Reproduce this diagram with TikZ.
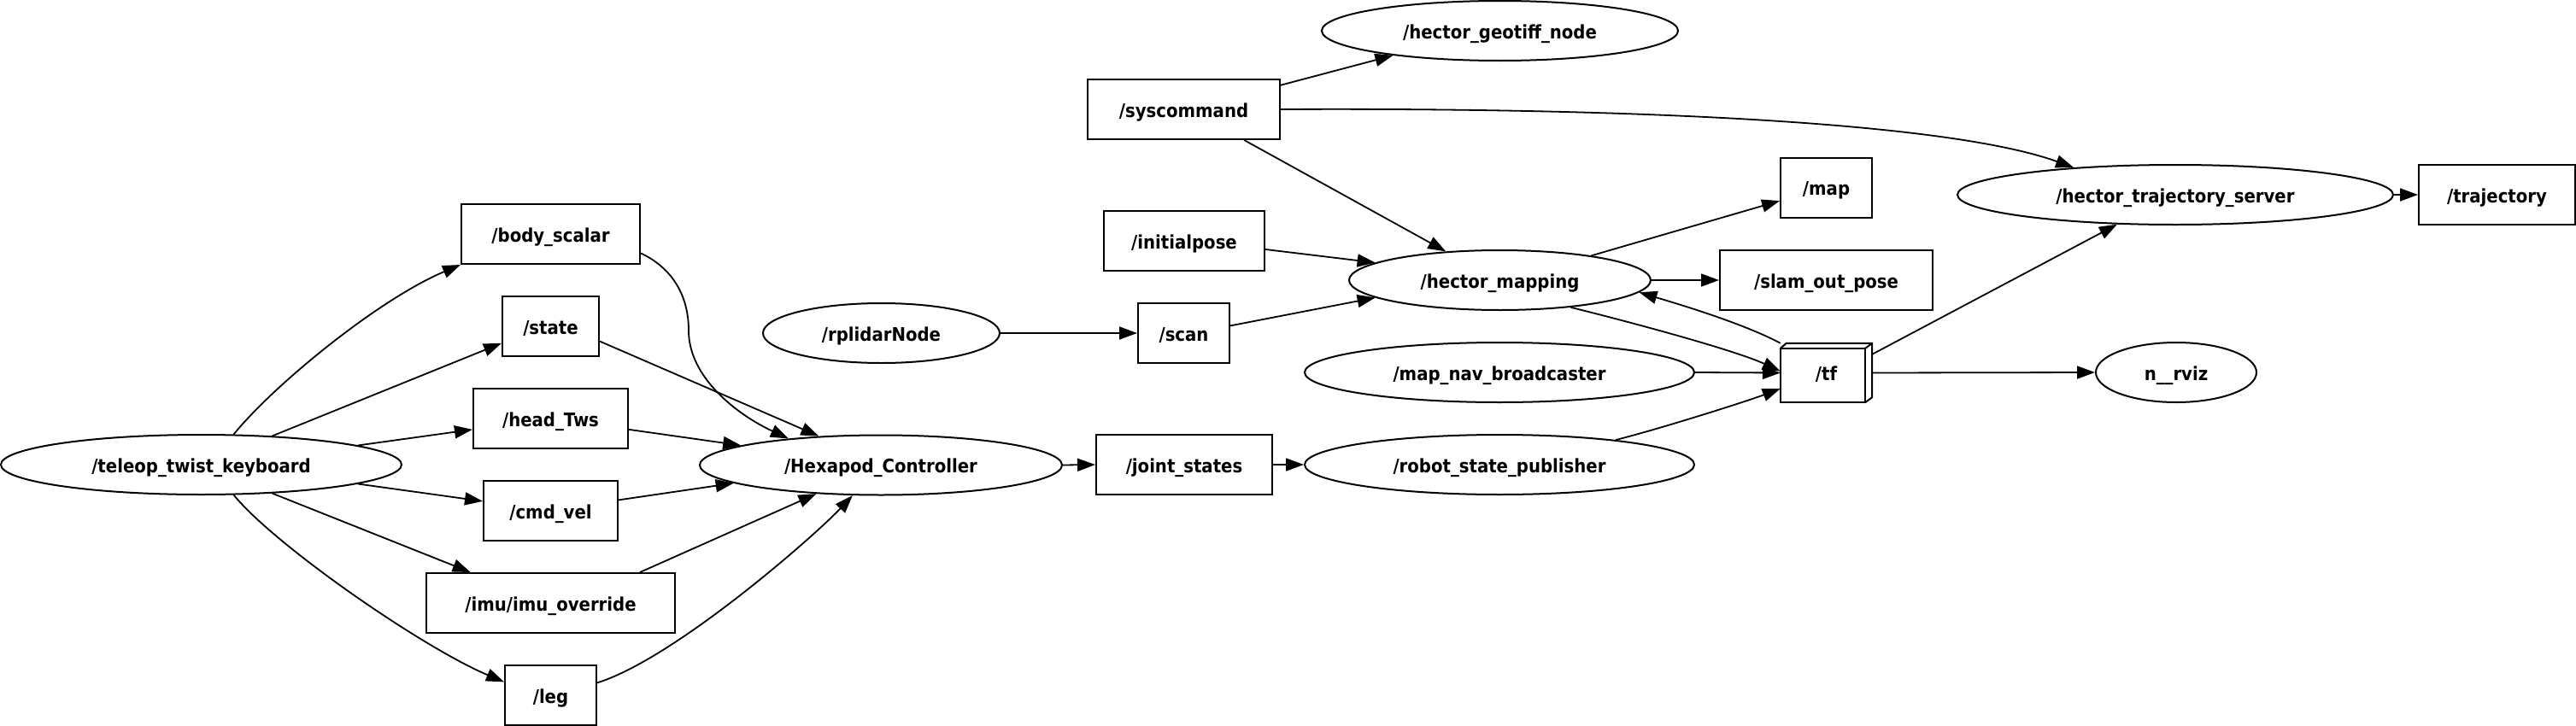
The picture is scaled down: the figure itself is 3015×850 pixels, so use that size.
\documentclass[tikz,border=0pt]{standalone}
\usepackage{fontspec}
\newfontfamily\gvfontraw{DejaVu Sans Condensed Bold}
\newcommand\gvlabel{\gvfontraw\fontsize{21.9bp}{26bp}\selectfont}
\usetikzlibrary{shapes.geometric,arrows.meta,calc}
\tikzset{
  gvtext/.style={font=\gvlabel, text height=20bp, text depth=2bp, inner sep=0pt},
  topic/.style={draw, line width=2bp, rectangle, minimum height=70bp, gvtext},
  gnode/.style={draw, line width=2bp, ellipse, minimum height=70bp, gvtext},
  conn/.style={line width=1.8bp, -{Triangle[length=21bp,width=15bp]}},
}
\begin{document}
\begin{tikzpicture}[x=1bp,y=1bp]
\useasboundingbox (0,0) rectangle (3015,-850);
% nodes
\node[gnode, minimum width=469bp] (teleop) at (235.5,-544) {/teleop\_twist\_keyboard};
\node[topic, minimum width=209bp] (body) at (644.5,-274) {/body\_scalar};
\node[topic, minimum width=113bp] (state) at (644.5,-382) {/state};
\node[topic, minimum width=181bp] (head) at (644.5,-490) {/head\_Tws};
\node[topic, minimum width=157bp] (cmd) at (644.5,-598) {/cmd\_vel};
\node[topic, minimum width=291bp] (imu) at (644.5,-706) {/imu/imu\_override};
\node[topic, minimum width=107bp] (leg) at (644.5,-814) {/leg};
\node[gnode, minimum width=424bp] (hexa) at (1031,-544.5) {/Hexapod\_Controller};
\node[gnode, minimum width=277bp] (rplidar) at (1031.5,-390) {/rplidarNode};
\node[topic, minimum width=107bp] (scan) at (1385.5,-390) {/scan};
\node[topic, minimum width=206bp] (joint) at (1386,-544) {/joint\_states};
\node[topic, minimum width=225bp] (syscmd) at (1385.5,-128) {/syscommand};
\node[topic, minimum width=188bp] (initp) at (1386,-282) {/initialpose};
\node[gnode, minimum width=417bp] (geotiff) at (1755.5,-36) {/hector\_geotiff\_node};
\node[gnode, minimum width=353bp] (mapping) at (1755.5,-328) {/hector\_mapping};
\node[gnode, minimum width=456bp] (mapnav) at (1755,-436) {/map\_nav\_broadcaster};
\node[gnode, minimum width=456bp] (robot) at (1755,-544) {/robot\_state\_publisher};
\node[topic, minimum width=107bp] (map) at (2137.5,-219.5) {/map};
\node[topic, minimum width=249bp] (slam) at (2137.5,-328) {/slam\_out\_pose};
\node[gvtext, minimum width=107bp, minimum height=69bp] (tf) at (2137.5,-436.5) {/tf};
\node[gnode, minimum width=510bp] (traj) at (2546,-228) {/hector\_trajectory\_server};
\node[gnode, minimum width=188bp] (rviz) at (2547,-436) {n\_\_rviz};
\node[topic, minimum width=183bp] (trajectory) at (2922.5,-228) {/trajectory};
% box3d outline of /tf
\draw[line width=2bp, line join=miter] (tf.south west) rectangle ($(tf.north east)+(-8,-6)$);
\draw[line width=2bp, line join=miter] ($(tf.north west)+(0,-6)$) -- ($(tf.north west)+(7,0)$) -- (tf.north east) -- ($(tf.south east)+(0,6)$) -- ($(tf.south east)+(-8,0)$);
\draw[line width=2bp] ($(tf.north east)+(-8,-6)$) -- (tf.north east);
% connectors
\coordinate (bend) at (806,-387);
\draw[conn] (teleop.43.4) .. controls +(48,59) and +(-95,-40) .. (body.south west);
\draw[conn] (teleop.22.8) -- (state.199.5);
\draw[conn] (teleop.7.7) -- (head.188.2);
\draw[conn] (teleop.-7.7) -- (cmd.172);
\draw[conn] (teleop.-22.8) -- (imu.159.7);
\draw[conn] (teleop.-43.4) .. controls +(48,-59) and +(-95,40) .. (leg.164.3);
\draw[conn] (body.-12.9) .. controls +(36,-17) and +(0,42) .. (bend) .. controls +(0,-55) and +(-60,28) .. (hexa.164.7);
\draw[conn] (state.-17.7) -- (hexa.155);
\draw[conn] (head.-8.2) -- (hexa.172.4);
\draw[conn] (cmd.9.4) -- (hexa.187.6);
\draw[conn] (imu.19.6) -- (hexa.204.3);
\draw[conn] (leg.15.7) .. controls +(90,28) and +(-45,-48) .. (hexa.227.5);
\draw[conn] (hexa.east) -- (joint.west);
\draw[conn] (joint.east) -- (robot.west);
\draw[conn] (rplidar.east) -- (scan.west);
\draw[conn] (scan.9.5) -- (mapping.188.4);
\draw[conn] (initp.-6.7) -- (mapping.172.3);
\draw[conn] (syscmd.-27.4) -- (mapping.152.2);
\draw[conn] (syscmd.14.5) -- (geotiff.193.3);
\draw[conn] (syscmd.east) .. controls +(402,2) and +(-150,54) .. (traj.165);
\draw[conn] (mapping.15.8) -- (map.196.2);
\draw[conn] (mapping.east) -- (slam.west);
\draw[conn] (mapping.-21.3) .. controls +(65,-16) and +(-54,25) .. (tf.178.4);
\draw[conn] (tf.north west) .. controls +(-45,24) and +(40,-12) .. (mapping.-5.4);
\draw[conn] (mapnav.east) -- (tf.west);
\draw[conn] (robot.12.1) .. controls +(55,14) and +(-40,-15) .. (tf.199.1);
\draw[conn] (tf.22.8) -- (traj.207.9);
\draw[conn] (tf.east) -- (rviz.west);
\draw[conn] (traj.east) -- (trajectory.west);
\end{tikzpicture}
\end{document}
